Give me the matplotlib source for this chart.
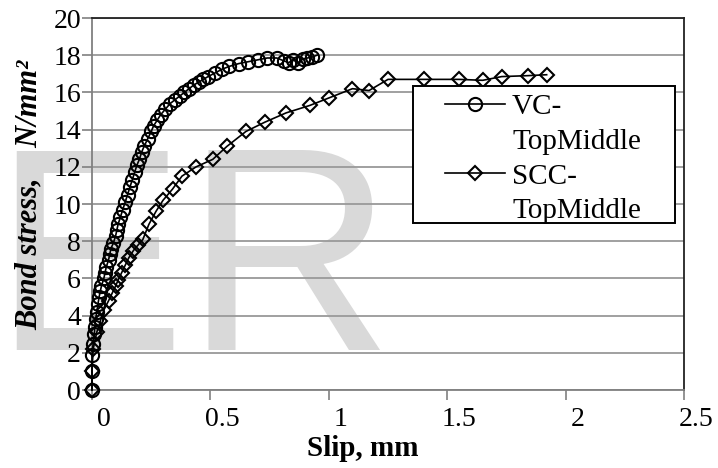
import matplotlib
matplotlib.use("Agg")
import matplotlib.pyplot as plt
import matplotlib.transforms as mtransforms
from matplotlib.lines import Line2D
from matplotlib.patches import Rectangle

# data (slip in mm, bond stress in N/mm2)
vc_slip = [0.00, 0.00, 0.00, 0.005, 0.01, 0.012, 0.015, 0.02, 0.025, 0.03,
           0.035, 0.04, 0.05, 0.055, 0.06, 0.07, 0.075, 0.08, 0.09, 0.10,
           0.105, 0.11, 0.12, 0.13, 0.14, 0.15, 0.16, 0.17, 0.18, 0.19,
           0.20, 0.21, 0.22, 0.235, 0.25, 0.26, 0.275, 0.29, 0.31, 0.33,
           0.35, 0.37, 0.39, 0.41, 0.43, 0.45, 0.47, 0.49, 0.52, 0.55,
           0.58, 0.62, 0.66, 0.70, 0.74, 0.78, 0.81, 0.83, 0.85, 0.87,
           0.89, 0.91, 0.93, 0.95]
vc_stress = [0.0, 1.0, 1.9, 2.5, 3.0, 3.4, 3.8, 4.2, 4.6, 5.0,
             5.3, 5.6, 6.0, 6.3, 6.6, 7.0, 7.3, 7.6, 7.9, 8.3,
             8.6, 8.9, 9.3, 9.7, 10.1, 10.5, 10.9, 11.3, 11.7, 12.1,
             12.4, 12.8, 13.1, 13.5, 13.9, 14.2, 14.5, 14.8, 15.1, 15.4,
             15.6, 15.8, 16.0, 16.2, 16.4, 16.55, 16.7, 16.85, 17.05, 17.25,
             17.4, 17.55, 17.65, 17.75, 17.85, 17.85, 17.7, 17.6, 17.75, 17.6,
             17.8, 17.85, 17.9, 18.0]

scc_slip = [0.0, 0.0, 0.005, 0.02, 0.035, 0.05, 0.07, 0.085, 0.10, 0.11,
            0.125, 0.14, 0.155, 0.175, 0.195, 0.215, 0.24, 0.27, 0.30, 0.34,
            0.38, 0.44, 0.51, 0.57, 0.65, 0.73, 0.82, 0.92, 1.00, 1.10,
            1.17, 1.25, 1.40, 1.55, 1.65, 1.73, 1.84, 1.92]
scc_stress = [0.0, 1.0, 2.2, 3.1, 3.7, 4.3, 4.8, 5.2, 5.6, 5.9,
              6.3, 6.7, 7.1, 7.5, 7.8, 8.1, 8.9, 9.6, 10.2, 10.8,
              11.5, 12.0, 12.4, 13.1, 13.9, 14.4, 14.9, 15.3, 15.7, 16.2,
              16.1, 16.7, 16.7, 16.7, 16.65, 16.85, 16.9, 16.95]

x_ticks = [0, 0.5, 1, 1.5, 2, 2.5]
x_ticklabels = ["0", "0.5", "1", "1.5", "2", "2.5"]
y_ticks = list(range(0, 21, 2))

plt.rcParams["font.family"] = "serif"
plt.rcParams["font.serif"] = ["Liberation Serif", "DejaVu Serif"]

fig = plt.figure(figsize=(7.18, 4.68), dpi=100)
ax = fig.add_axes([92 / 718, 1 - 390 / 468, 592 / 718, 372 / 468])
ax.patch.set_visible(False)

# watermark behind the chart
fig.text(-8 / 718, 1 - 350 / 468, "ER", fontsize=208, family="Liberation Sans",
         color="#d9d9d9", ha="left", va="baseline", zorder=-10)

ax.plot(vc_slip, vc_stress, color="black", lw=1.2, marker="o", ms=9.5,
        mfc="none", mec="black", mew=1.5, zorder=3, clip_on=False)
ax.plot(scc_slip, scc_stress, color="black", lw=1.2, marker="D", ms=7.5,
        mfc="none", mec="black", mew=1.5, zorder=3, clip_on=False)

ax.set_xlim(0, 2.5)
ax.set_ylim(0, 20)
ax.set_xticks(x_ticks)
ax.set_xticklabels(x_ticklabels)
ax.set_yticks(y_ticks)
ax.yaxis.grid(True, color="#999999", lw=1.3)
ax.set_axisbelow(True)

ax.tick_params(axis="both", direction="out", length=7, width=1.2,
               color="#808080", labelsize=20, labelcolor="black")
ax.tick_params(axis="y", pad=1)
ax.tick_params(axis="x", pad=5)
# the reference has the x labels sitting a little right of their ticks
shift = mtransforms.ScaledTranslation(0.12, 0, fig.dpi_scale_trans)
for lab in ax.get_xticklabels():
    lab.set_transform(lab.get_transform() + shift)

for side in ["left", "bottom"]:
    ax.spines[side].set_color("#808080")
    ax.spines[side].set_linewidth(1.3)
for side in ["top", "right"]:
    ax.spines[side].set_color("#222222")
    ax.spines[side].set_linewidth(1.3)

ax.set_xlabel("Slip, mm", fontsize=21, fontweight="bold")
ax.xaxis.set_label_coords((363 - 92) / 592, -0.12)
ax.set_ylabel("Bond stress,    N/mm\u00b2", fontsize=22, fontweight="bold",
              fontstyle="italic")
ax.yaxis.set_label_coords(-0.082, 0.525)

# legend box drawn separately so it can be as roomy as the reference
box = Rectangle(((413 - 92) / 592, (390 - 223) / 372), (675 - 413) / 592,
                (223 - 86) / 372, transform=ax.transAxes, facecolor="white",
                edgecolor="black", lw=1.4, zorder=4, clip_on=False)
ax.add_patch(box)

# two-line labels with the marker beside the first line
h_vc = Line2D([], [], color="black", lw=1.2, marker="o", ms=9.5, mfc="none", mew=1.5)
h_scc = Line2D([], [], color="black", lw=1.2, marker="D", ms=7.5, mfc="none", mew=1.5)
h_blank = Line2D([], [], linestyle="none")
leg = ax.legend([h_vc, h_blank, h_scc, h_blank],
                ["VC-", "TopMiddle", "SCC-", "TopMiddle"],
                loc="upper left", bbox_to_anchor=((445 - 92) / 592, (390 - 94) / 372),
                fontsize=21, frameon=False, handlelength=2.05, handletextpad=0.25,
                labelspacing=0.28, borderpad=0, borderaxespad=0)
leg.set_zorder(5)
for t in leg.get_texts():
    t.set_color("black")

fig.savefig("out.png", dpi=100)
